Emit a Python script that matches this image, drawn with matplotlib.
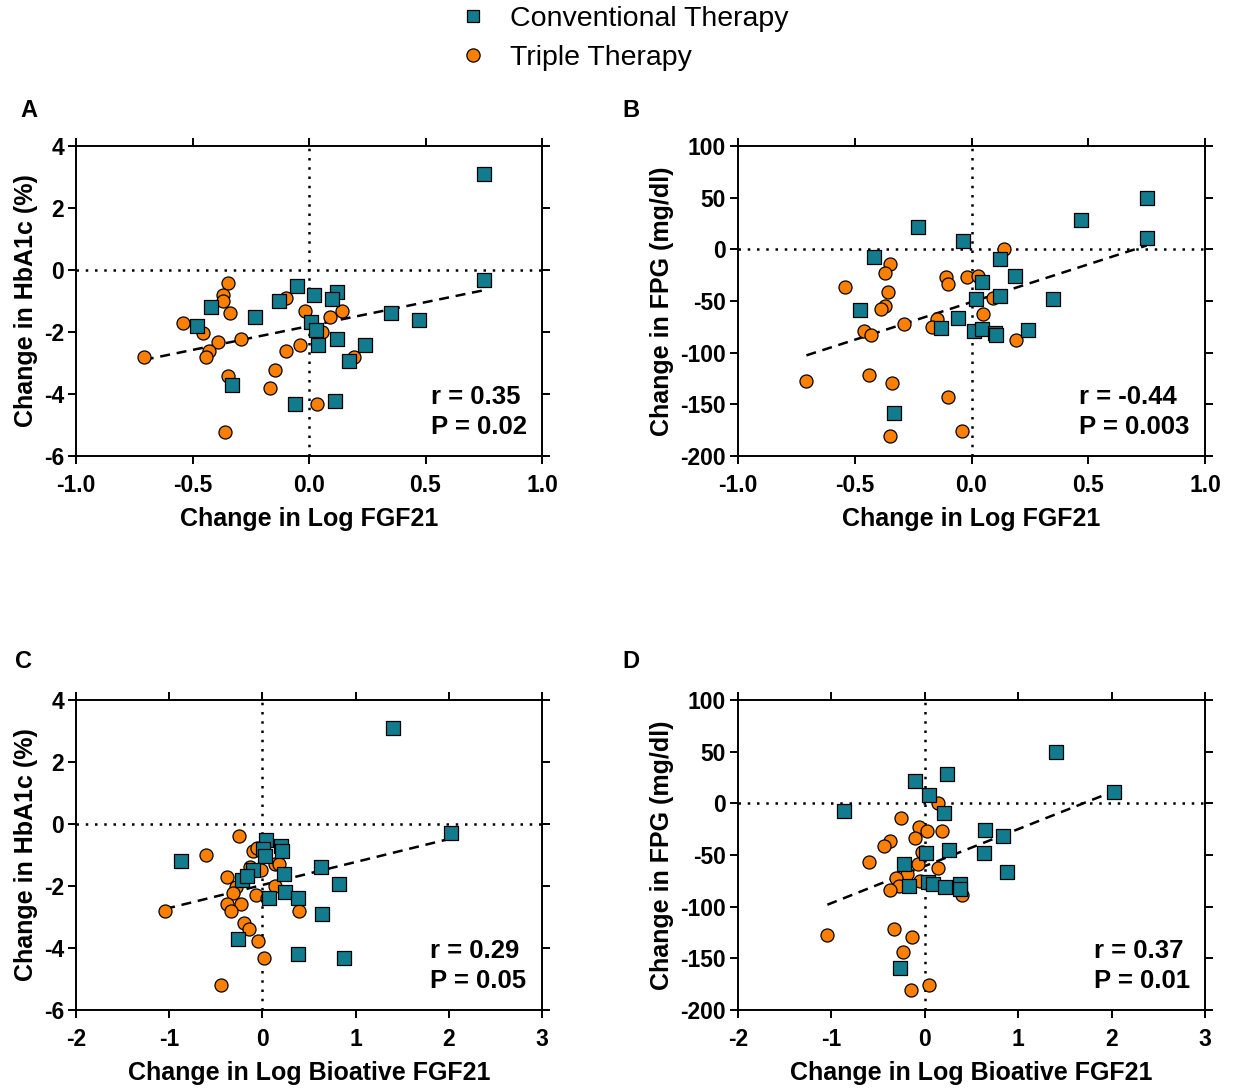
import matplotlib
matplotlib.use("Agg")
import matplotlib.pyplot as plt
from matplotlib.lines import Line2D
import numpy as np

plt.rcParams['font.family'] = ['Liberation Sans', 'DejaVu Sans']
plt.rcParams['axes.unicode_minus'] = False

CONV_COLOR = '#137b8e'
TRIPLE_COLOR = '#ff8000'

# --- Panel A: HbA1c vs log FGF21 ---
a_conv_x = [0.752, 0.752, -0.05, 0.02, 0.12, 0.10, -0.13, -0.42, -0.23, 0.35, 0.47,
            -0.48, 0.01, 0.03, 0.12, 0.24, 0.04, 0.17, -0.33, -0.06, 0.11]
a_conv_y = [3.10, -0.31, -0.51, -0.81, -0.72, -0.94, -1.01, -1.20, -1.53, -1.40, -1.61,
            -1.82, -1.69, -1.92, -2.23, -2.41, -2.41, -2.92, -3.71, -4.32, -4.24]
a_trip_x = [-0.347, -0.368, -0.368, -0.337, -0.54, -0.457, -0.39, -0.43, -0.44, -0.709,
            -0.29, -0.097, -0.017, 0.09, 0.143, 0.057, -0.039, -0.097, 0.193, -0.148,
            -0.347, -0.169, 0.033, -0.361]
a_trip_y = [-0.42, -0.80, -1.01, -1.40, -1.72, -2.03, -2.31, -2.62, -2.82, -2.82,
            -2.23, -0.91, -1.31, -1.51, -1.31, -2.01, -2.41, -2.62, -2.80, -3.23,
            -3.41, -3.81, -4.32, -5.24]
a_fit_x = [-0.709, 0.752]
a_fit_y = [-2.90, -0.65]

# --- Panel B: FPG vs log FGF21 ---
b_conv_x = [0.75, 0.471, 0.75, -0.229, -0.036, -0.419, 0.121, 0.186, 0.046, 0.021, 0.121,
            0.350, -0.479, -0.059, -0.129, 0.011, 0.043, 0.10, 0.107, 0.24, -0.33]
b_conv_y = [50.0, 28.7, 10.6, 21.9, 8.1, -7.1, -9.0, -26.1, -31.3, -48.4, -45.2,
            -48.4, -58.4, -66.1, -75.8, -79.0, -77.4, -80.6, -83.2, -78.4, -158.4]
b_trip_x = [0.14, -0.35, -0.37, -0.54, -0.357, -0.371, -0.389, -0.11, -0.10, -0.019,
            0.029, 0.09, 0.05, -0.147, -0.169, -0.29, -0.46, -0.429, 0.19, -0.707,
            -0.439, -0.34, -0.10, -0.349, -0.039]
b_trip_y = [0.6, -13.9, -22.9, -36.1, -41.3, -55.2, -58.1, -26.8, -33.2, -26.8,
            -25.8, -47.1, -62.3, -67.1, -75.2, -71.9, -79.4, -83.2, -88.1, -127.4,
            -121.3, -129.4, -143.2, -180.3, -175.5]
b_fit_x = [-0.707, 0.75]
b_fit_y = [-102.6, 3.7]

# --- Panel C: HbA1c vs log bioactive FGF21 ---
c_conv_x = [1.396, 2.021, 0.039, 0.196, 0.207, 0.011, 0.029, -0.875, 0.629, -0.104, 0.232,
            -0.221, 0.825, 0.243, 0.075, 0.379, 0.643, -0.264, 0.379, 0.875, -0.168]
c_conv_y = [3.09, -0.29, -0.50, -0.70, -0.88, -0.80, -1.02, -1.20, -1.39, -1.49, -1.61,
            -1.81, -1.92, -2.19, -2.40, -2.40, -2.89, -3.70, -4.20, -4.31, -1.68]
c_trip_x = [-0.25, -0.607, -0.104, -0.061, 0.136, 0.179, -0.132, -0.018, -0.382, -0.286,
            -0.311, 0.136, -0.071, -0.382, -0.232, -0.336, -1.043, 0.396, -0.196, -0.139,
            -0.043, 0.018, -0.443, 0.046]
c_trip_y = [-0.40, -1.00, -0.88, -0.79, -1.29, -1.29, -1.39, -1.49, -1.71, -2.03,
            -2.22, -2.00, -2.29, -2.59, -2.59, -2.81, -2.81, -2.81, -3.20, -3.40,
            -3.79, -4.31, -5.20, -2.38]
c_fit_x = [-1.043, 2.021]
c_fit_y = [-2.74, -0.47]

# --- Panel D: FPG vs log bioactive FGF21 ---
d_conv_x = [1.40, 2.029, 0.243, -0.10, 0.043, -0.868, 0.204, 0.643, 0.832, 0.257, 0.018,
            0.632, -0.221, 0.882, 0.036, 0.089, -0.168, 0.214, 0.382, 0.382, -0.261]
d_conv_y = [49.7, 10.6, 28.7, 21.6, 8.1, -7.1, -9.4, -26.1, -31.6, -45.2, -48.4,
            -48.4, -58.7, -66.5, -75.8, -78.4, -79.7, -80.6, -77.7, -83.2, -159.0]
d_trip_x = [0.143, -0.25, -0.061, 0.025, 0.179, -0.10, -0.375, -0.439, -0.025, -0.596,
            -0.071, 0.143, -0.186, -0.304, -0.275, -0.375, -0.054, 0.40, -1.043, -0.329,
            -0.132, -0.232, -0.143, 0.043]
d_trip_y = [0.0, -14.2, -22.9, -26.5, -27.1, -33.5, -36.5, -41.3, -46.8, -56.5,
            -58.7, -62.3, -68.1, -71.9, -79.7, -83.5, -74.8, -88.7, -127.4, -121.6,
            -129.4, -143.5, -180.6, -175.8]
d_fit_x = [-1.043, 2.029]
d_fit_y = [-98.1, 11.9]

hba1c_ticks = [4, 2, 0, -2, -4, -6]
fpg_ticks = [100, 50, 0, -50, -100, -150, -200]
fgf_ticks = [-1.0, -0.5, 0.0, 0.5, 1.0]
bio_ticks = [-2, -1, 0, 1, 2, 3]

W, H = 1233, 1090
fig = plt.figure(figsize=(W / 100, H / 100), dpi=100)


def px_rect(left, top, right, bottom):
    return [left / W, 1 - bottom / H, (right - left) / W, (bottom - top) / H]


def panel(rect, conv_x, conv_y, trip_x, trip_y, fit_x, fit_y,
          xticks, xfmt, yticks, xlabel, ylabel, r_txt, p_txt, txt_x):
    ax = fig.add_axes(rect)
    ax.axhline(0, color='black', lw=1.8, ls=(0, (1, 2.7)), zorder=1)
    ax.axvline(0, color='black', lw=1.8, ls=(0, (1, 2.7)), zorder=1)
    ax.plot(fit_x, fit_y, color='black', lw=1.8, ls=(0, (4, 2.7)), zorder=2)
    ax.scatter(trip_x, trip_y, s=88, marker='o', facecolor=TRIPLE_COLOR,
               edgecolor='black', linewidth=0.9, zorder=3)
    ax.scatter(conv_x, conv_y, s=88, marker='s', facecolor=CONV_COLOR,
               edgecolor='black', linewidth=0.9, zorder=4)
    ax.set_xlim(xticks[0], xticks[-1])
    ax.set_ylim(yticks[-1], yticks[0])
    ax.set_xticks(xticks)
    ax.set_xticklabels([xfmt.format(t) for t in xticks])
    ax.set_yticks(yticks)
    ax.set_yticklabels([str(t) for t in yticks])
    for s in ax.spines.values():
        s.set_linewidth(1.4)
    ax.tick_params(direction='out', length=6, width=1.4, top=True, right=True,
                   labeltop=False, labelright=False, labelsize=16.5)
    ax.tick_params(axis='x', pad=7)
    ax.tick_params(axis='y', pad=2.5)
    for lab in ax.get_xticklabels() + ax.get_yticklabels():
        lab.set_fontweight('bold')
    ax.set_xlabel(xlabel, fontsize=18, fontweight='bold', labelpad=7)
    ax.set_ylabel(ylabel, fontsize=18, fontweight='bold', labelpad=4.5)
    ax.text(txt_x, 0.19, r_txt, transform=ax.transAxes, ha='left', va='center',
            fontsize=18.5, fontweight='bold')
    ax.text(txt_x, 0.094, p_txt, transform=ax.transAxes, ha='left', va='center',
            fontsize=18.5, fontweight='bold')
    return ax


panel(px_rect(76, 146, 542, 456), a_conv_x, a_conv_y, a_trip_x, a_trip_y,
      a_fit_x, a_fit_y, fgf_ticks, '{:.1f}', hba1c_ticks,
      'Change in Log FGF21', 'Change in HbA1c (%)', 'r = 0.35', 'P = 0.02', 0.762)
panel(px_rect(738, 146, 1205, 456), b_conv_x, b_conv_y, b_trip_x, b_trip_y,
      b_fit_x, b_fit_y, fgf_ticks, '{:.1f}', fpg_ticks,
      'Change in Log FGF21', 'Change in FPG (mg/dl)', 'r = -0.44', 'P = 0.003', 0.730)
panel(px_rect(76, 700, 542, 1010), c_conv_x, c_conv_y, c_trip_x, c_trip_y,
      c_fit_x, c_fit_y, bio_ticks, '{:d}', hba1c_ticks,
      'Change in Log Bioative FGF21', 'Change in HbA1c (%)', 'r = 0.29', 'P = 0.05', 0.760)
panel(px_rect(738, 700, 1205, 1010), d_conv_x, d_conv_y, d_trip_x, d_trip_y,
      d_fit_x, d_fit_y, bio_ticks, '{:d}', fpg_ticks,
      'Change in Log Bioative FGF21', 'Change in FPG (mg/dl)', 'r = 0.37', 'P = 0.01', 0.762)

# panel letters
for letter, x, y in [('A', 20, 110), ('B', 622, 110), ('C', 15, 661), ('D', 622, 661)]:
    fig.text(x / W, 1 - y / H, letter, fontsize=17, fontweight='bold',
             ha='left', va='center')

# shared legend
handles = [
    Line2D([], [], ls='none', marker='s', ms=9, mfc=CONV_COLOR, mec='black', mew=0.9),
    Line2D([], [], ls='none', marker='o', ms=9.5, mfc=TRIPLE_COLOR, mec='black', mew=0.9),
]
fig.legend(handles, ['Conventional Therapy', 'Triple Therapy'],
           loc='upper left', bbox_to_anchor=(456 / W, 1 - 3 / H), frameon=False,
           fontsize=20.5, handlelength=1.0, handletextpad=0.8, labelspacing=0.45,
           borderpad=0.1, borderaxespad=0)

fig.savefig('out.png', dpi=100)
